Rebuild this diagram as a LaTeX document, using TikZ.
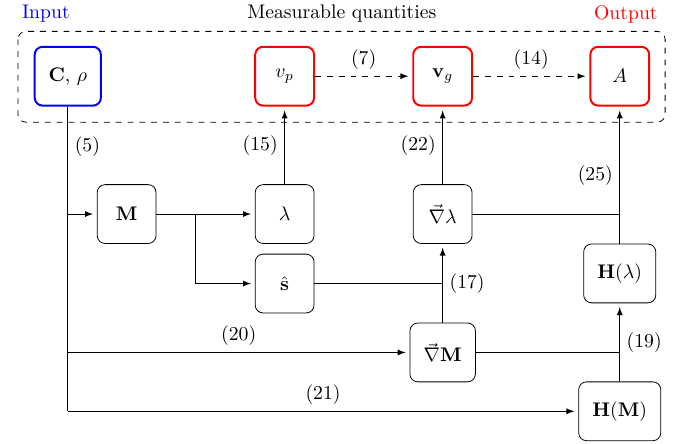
\documentclass[tikz,border=0pt]{standalone}
\usepackage{amsmath,tikz}
\usetikzlibrary{arrows}

\begin{document}
\begin{tikzpicture}[auto, >=latex,
	block/.style={draw, rounded corners=4pt, minimum width=1.05cm, minimum height=1.05cm, inner xsep=7pt},
	given/.style={block, draw=blue, line width=1pt},
	measured/.style={block, draw=red, line width=1pt},
	link/.style={->, shorten >=2pt}]
		\useasboundingbox (-1.21,1.36) rectangle (10.89,-6.55);

		\draw[dashed, rounded corners=4pt] (-0.89,0.80) rectangle (10.66,-0.82);
		\draw (-0.39,1.11) node [text=blue] (in){Input};
		\draw (4.89,1.11) node (meas){Measurable quantities};
		\draw (9.96,1.11) node [text=red] (out){Output};

		\draw (0,0) node [given] (C){$\mathbf{C}$, $\rho$};
		\draw (3.87,0) node [measured] (vp){$v_p$};
		\draw (6.69,0) node [measured] (vg){$\mathbf{v}_g$};
		\draw (9.85,0) node [measured] (A){$A$};
		\draw (1.05,-2.46) node [block] (M){$\mathbf{M}$};
		\draw (3.87,-2.46) node [block] (lam){$\lambda$};
		\draw (3.87,-3.70) node [block] (shat){$\hat{\mathbf{s}}$};
		\draw (6.69,-2.46) node [block] (gl){$\vec{\nabla}\lambda$};
		\draw (6.69,-4.93) node [block] (gM){$\vec{\nabla}\mathbf{M}$};
		\draw (9.85,-3.52) node [block] (Hl){$\mathbf{H}(\lambda)$};
		\draw (9.85,-5.98) node [block] (HM){$\mathbf{H}(\mathbf{M})$};
		\coordinate (br) at (2.28,-2.46);

		% input trunk
		\draw (C.south) -- node [right, pos=0.13]{(5)} (C |- HM);
		\draw[link] (C |- M) -- (M);
		\draw[link] (C |- gM) -- node [above]{(20)} (gM);
		\draw[link] (C |- HM) -- node [above]{(21)} (HM);

		\draw[link] (M) -- (lam);
		\draw[link] (br) |- (shat);
		\draw[link] (lam) -- node [left]{(15)} (vp);
		\draw (shat) -- (shat -| gl);
		\draw[link] (gM) -- node [right]{(17)} (gl);
		\draw[link] (gl) -- node [left]{(22)} (vg);
		\draw (gl) -- (gl -| A);
		\draw[link] (Hl) -- node [left]{(25)} (A);
		\draw (gM) -- (gM -| Hl);
		\draw[link] (HM) -- node [right]{(19)} (Hl);

		% measurable chain
		\draw[link, dashed] (vp) -- node [above]{(7)} (vg);
		\draw[link, dashed] (vg) -- node [above]{(14)} (A);
	\end{tikzpicture}
\end{document}
